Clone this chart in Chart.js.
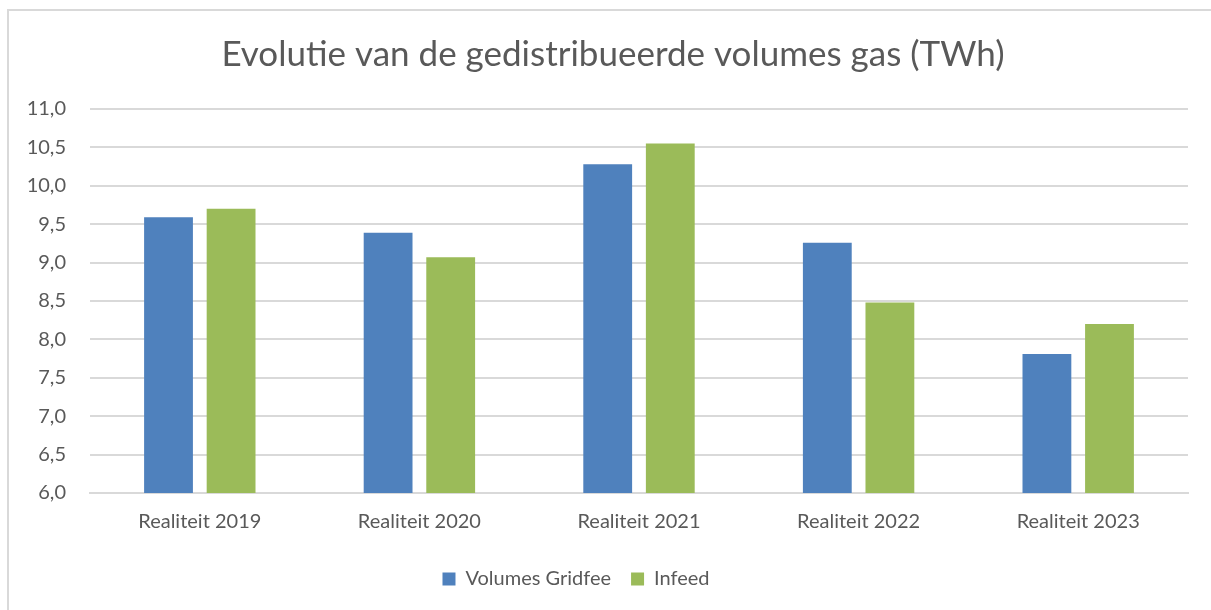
<!DOCTYPE html>
<html>
<head>
<meta charset="utf-8">
<script src="https://cdn.jsdelivr.net/npm/chart.js@4/dist/chart.umd.min.js"></script>
<style>
    html, body { margin: 0; padding: 0; background: #fff; overflow: hidden; }
    #frame { position: absolute; left: 7px; top: 9px; width: 1210px; height: 620px; border-left: 2px solid #d9d9d9; border-top: 2px solid #d9d9d9; }
    #wrap { position: absolute; left: 0; top: 0; width: 1211px; height: 610px; }
</style>
</head>
<body>
<div id="frame"></div>
<div id="wrap"><canvas id="chart-gas"></canvas></div>
<script>
// Data
const categories = ['Realiteit 2019', 'Realiteit 2020', 'Realiteit 2021', 'Realiteit 2022', 'Realiteit 2023'];
const gridfeeValues = [9.59, 9.39, 10.28, 9.26, 7.81];
const infeedValues = [9.70, 9.07, 10.55, 8.48, 8.20];
const seriesNames = ['Volumes Gridfee', 'Infeed'];
const titleText = 'Evolutie van de gedistribueerde volumes gas (TWh)';

const textColor = '#595959';
const gridColor = '#d9d9d9';
const fontFamily = 'Lato, "Open Sans", sans-serif';

// Excel puts the legend a bit left of centre
const legendShift = {
    id: 'legendShift',
    afterLayout(chart) {
        chart.legend.left -= 37;
        chart.legend.right -= 37;
    }
};

const ctx = document.getElementById('chart-gas').getContext('2d');
new Chart(ctx, {
    type: 'bar',
    data: {
        labels: categories,
        datasets: [
            { label: seriesNames[0], data: gridfeeValues, backgroundColor: '#4f81bd' },
            { label: seriesNames[1], data: infeedValues, backgroundColor: '#9bbb59' }
        ]
    },
    plugins: [legendShift],
    options: {
        responsive: true,
        maintainAspectRatio: false,
        animation: false,
        categoryPercentage: 0.57,
        barPercentage: 0.78,
        layout: { padding: { top: 18, right: 0, bottom: 11, left: 15 } },
        plugins: {
            title: {
                display: true,
                text: titleText,
                color: textColor,
                font: { family: fontFamily, size: 35, weight: '400', lineHeight: 1.2 },
                padding: { top: 16, bottom: 33 }
            },
            legend: {
                position: 'bottom',
                labels: {
                    color: textColor,
                    font: { family: fontFamily, size: 20 },
                    boxWidth: 13,
                    boxHeight: 13,
                    padding: 20
                }
            },
            tooltip: { enabled: false }
        },
        scales: {
            x: {
                grid: { display: false, drawTicks: false },
                border: { display: true, color: gridColor, width: 2 },
                ticks: { color: textColor, font: { family: fontFamily, size: 20 }, padding: 17 },
                afterFit: (scale) => { scale.height = 56; }
            },
            y: {
                min: 6,
                max: 11,
                grid: { color: gridColor, lineWidth: 2, drawTicks: false },
                border: { display: false },
                ticks: {
                    stepSize: 0.5,
                    color: textColor,
                    font: { family: fontFamily, size: 20 },
                    padding: 24,
                    callback: (value) => value.toFixed(1).replace('.', ',')
                },
                afterFit: (scale) => { scale.width = 75; }
            },
            // empty right-hand strip so the plot ends where Excel's does
            yRight: {
                position: 'right',
                grid: { display: false, drawTicks: false },
                border: { display: false },
                ticks: { display: false },
                afterFit: (scale) => { scale.width = 23; }
            }
        }
    }
});
</script>
</body>
</html>
